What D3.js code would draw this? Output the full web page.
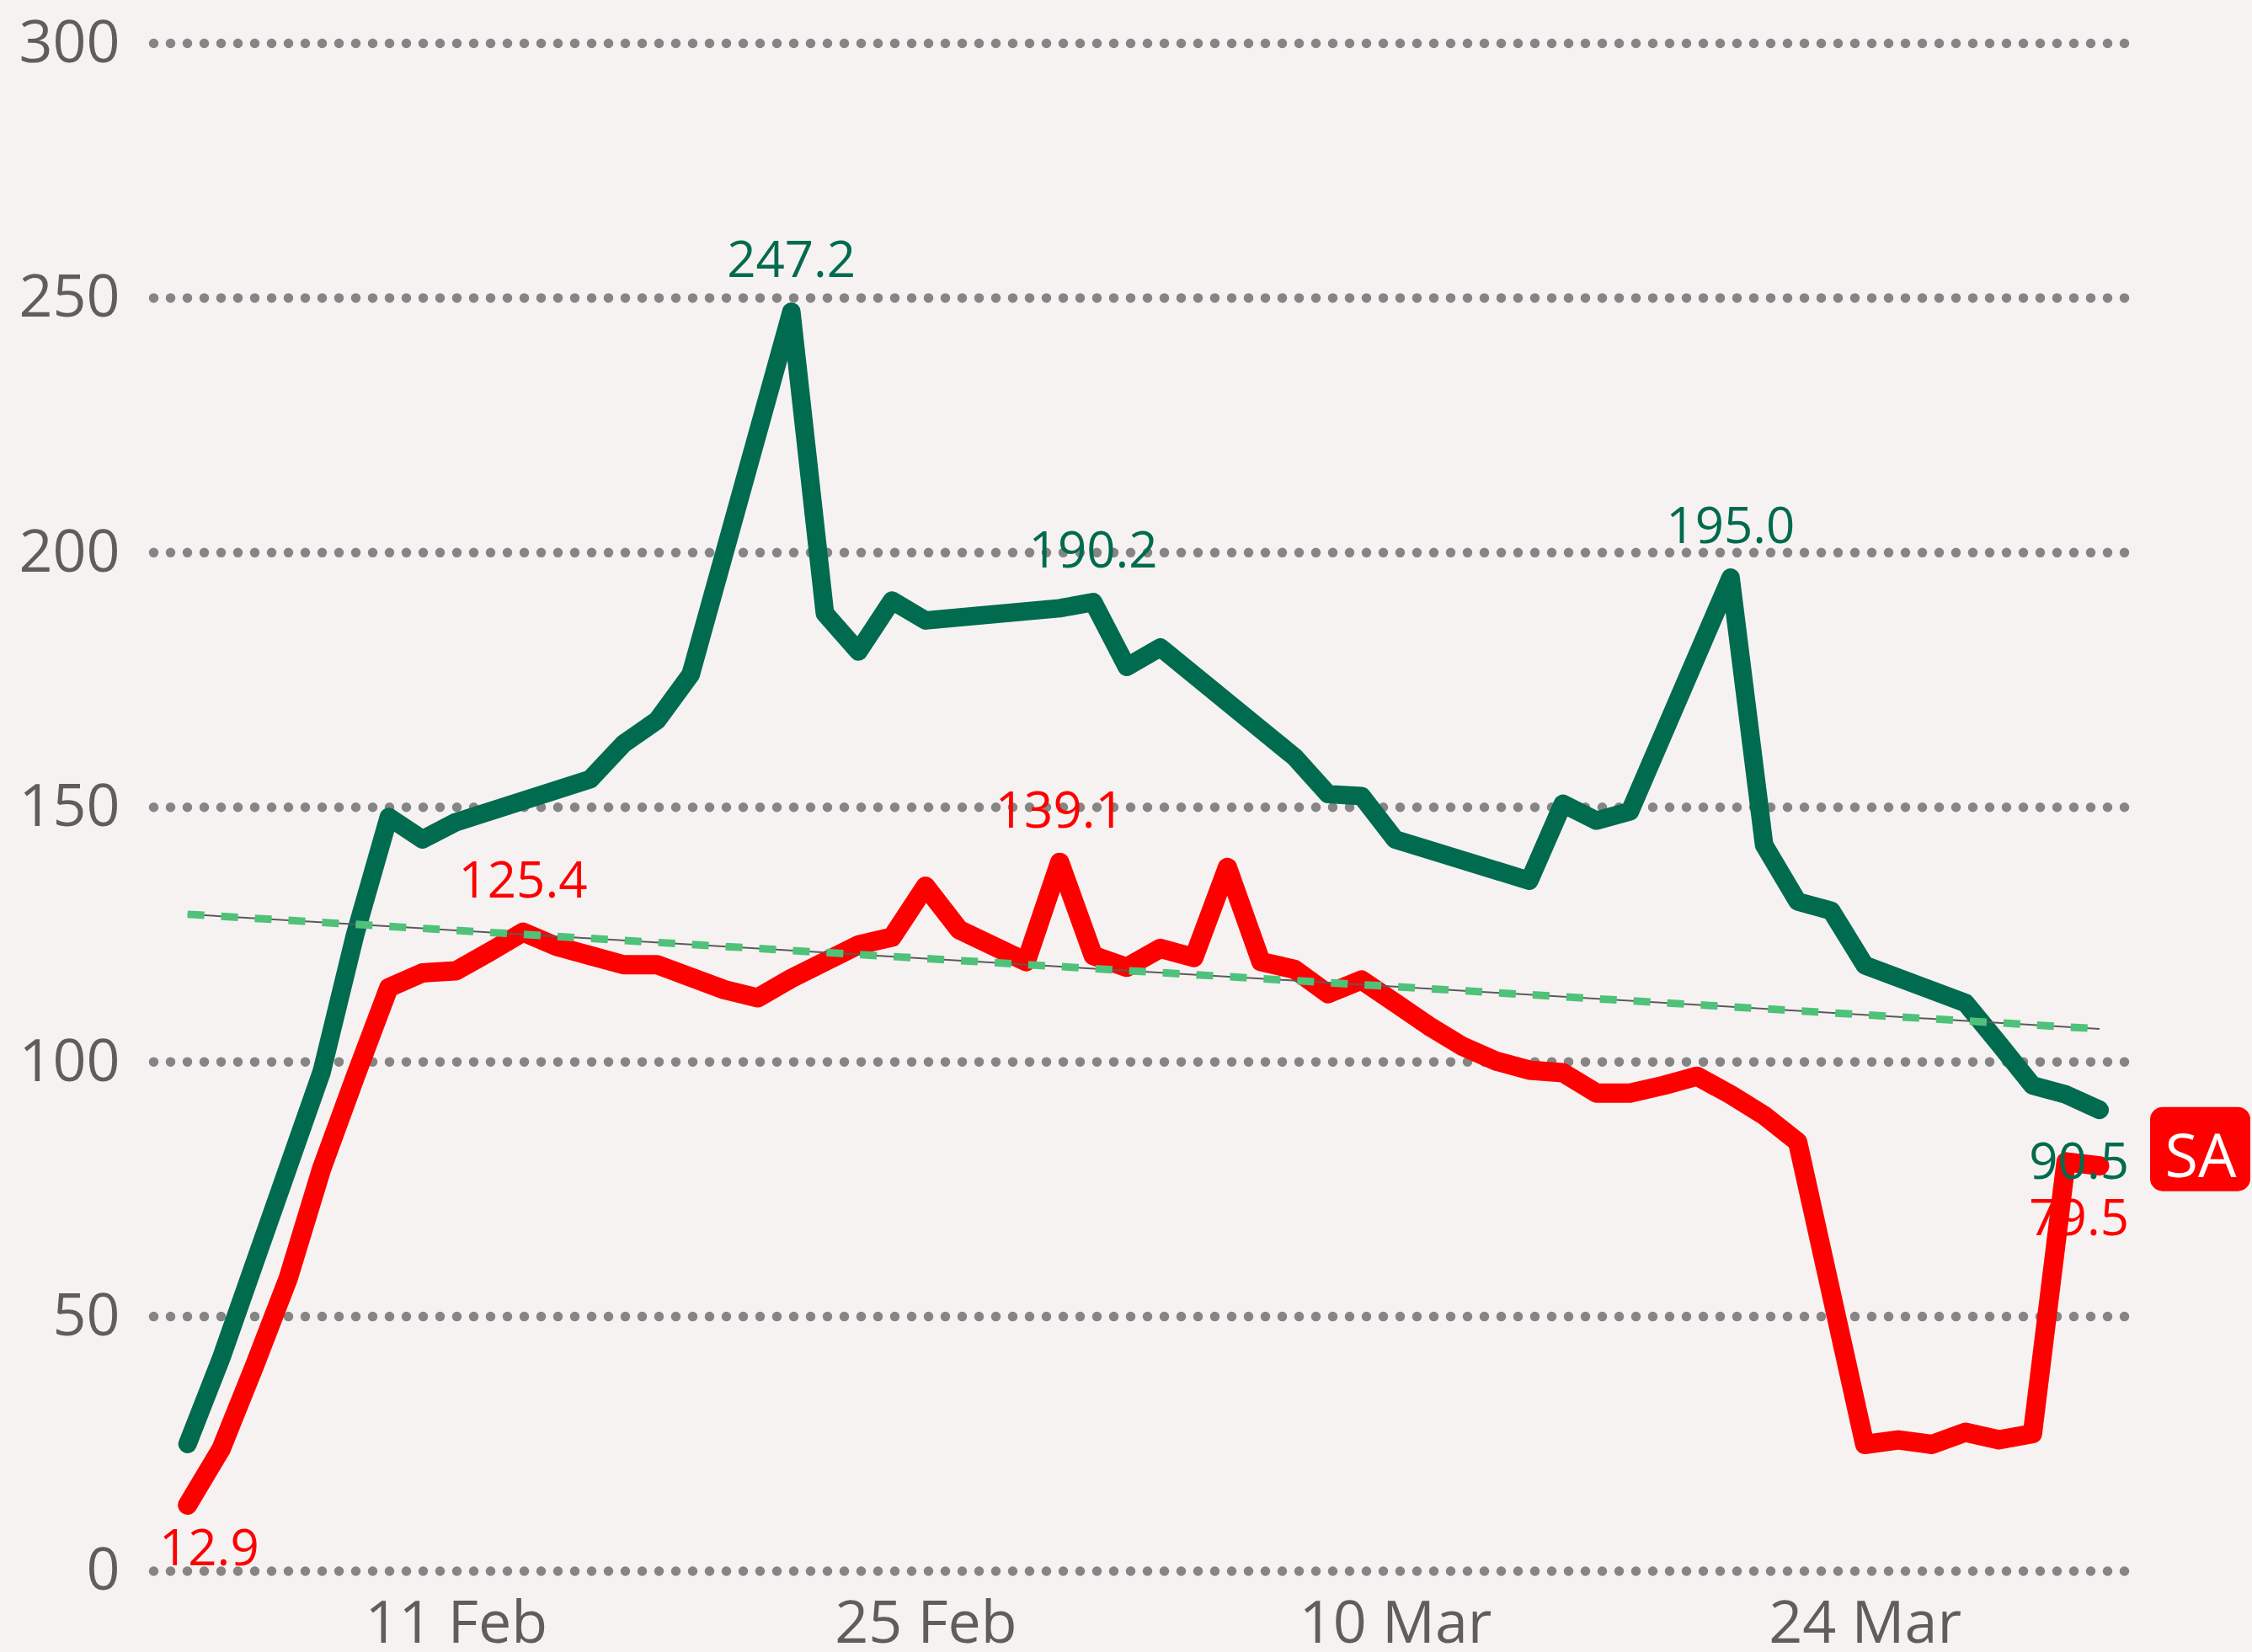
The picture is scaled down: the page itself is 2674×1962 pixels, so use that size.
<!DOCTYPE html>
<html>
<head>
    <meta charset="utf-8">
    <style>
        html, body {
            margin: 0;
            padding: 0;
            background: #f7f2f2;
        }

        svg {
            display: block;
        }
    </style>
</head>
<body>
<div id="chart"></div>

<script src="https://cdn.jsdelivr.net/npm/d3@7"></script>
<script>
    "use strict";

    // one entry per day, Feb 3 .. Mar 31 2020
    var dates = [
        "2020-02-03", "2020-02-04", "2020-02-05", "2020-02-06", "2020-02-07", "2020-02-08", "2020-02-09",
        "2020-02-10", "2020-02-11", "2020-02-12", "2020-02-13", "2020-02-14", "2020-02-15", "2020-02-16",
        "2020-02-17", "2020-02-18", "2020-02-19", "2020-02-20", "2020-02-21", "2020-02-22", "2020-02-23",
        "2020-02-24", "2020-02-25", "2020-02-26", "2020-02-27", "2020-02-28", "2020-02-29", "2020-03-01",
        "2020-03-02", "2020-03-03", "2020-03-04", "2020-03-05", "2020-03-06", "2020-03-07", "2020-03-08",
        "2020-03-09", "2020-03-10", "2020-03-11", "2020-03-12", "2020-03-13", "2020-03-14", "2020-03-15",
        "2020-03-16", "2020-03-17", "2020-03-18", "2020-03-19", "2020-03-20", "2020-03-21", "2020-03-22",
        "2020-03-23", "2020-03-24", "2020-03-25", "2020-03-26", "2020-03-27", "2020-03-28", "2020-03-29",
        "2020-03-30", "2020-03-31"
    ];

    // null = no value that day, the line just joins over it
    var greenValues = [
        24.9, 41.7, null, null, 98.0, 125.0, 148.0,
        143.6, 147.0, null, null, null, 155.4, 162.4,
        167.0, 176.0, null, null, 247.2, 188.0, 180.5,
        190.5, 186.6, null, null, null, 189.0, 190.2,
        177.5, 181.3, null, null, null, 159.8, 152.5,
        152.1, 143.6, null, null, null, 135.5, 150.6,
        147.3, 149.1, null, null, 195.0, 142.5, 131.4,
        129.6, 118.9, null, null, 111.5, 103.5, 95.3,
        93.5, 90.5
    ];

    var redValues = [
        12.9, 23.9, 40.3, 57.4, 79.0, 97.0, 114.5,
        117.4, 117.8, 121.5, 125.4, 122.6, 120.8, 119.0,
        119.0, null, 114.1, 112.5, 116.3, null, 122.9,
        124.4, 134.4, 125.9, null, 119.6, 139.1, 120.8,
        118.5, 122.2, 120.4, 138.1, 119.6, 118.1, 113.3,
        116.0, 111.5, 107.0, 103.0, 100.1, 98.3, 97.8,
        93.8, 93.8, 95.3, 97.1, 93.5, 89.4, 84.2,
        null, 24.8, 25.7, 24.8, 27.2, 25.7, 26.9,
        80.3, 79.5
    ];

    var trendDates = ["2020-02-03", "2020-03-31"];
    var trendValues = [128.9, 106.4];

    var yTicks = [0, 50, 100, 150, 200, 250, 300];
    var xTickDates = ["2020-02-11", "2020-02-25", "2020-03-10", "2020-03-24"];

    var labelPoints = [
        {series: "green", date: "2020-02-21", pos: "above"},
        {series: "green", date: "2020-03-01", pos: "above"},
        {series: "green", date: "2020-03-20", pos: "above"},
        {series: "green", date: "2020-03-31", pos: "below"},
        {series: "red", date: "2020-02-03", pos: "below"},
        {series: "red", date: "2020-02-13", pos: "above"},
        {series: "red", date: "2020-02-29", pos: "above"},
        {series: "red", date: "2020-03-31", pos: "below"}
    ];

    var legendName = "SA";

    const WIDTH = 2674;
    const HEIGHT = 1962;
    const FONT = "'Segoe UI', 'Open Sans', sans-serif";
    const GREEN = "#006b4f";
    const RED = "#ff0000";
    const TEXT_GREY = "#605e5c";
    const PLOT_LEFT = 182.5;
    const PLOT_RIGHT = 2523;
    const PLOT_BOTTOM = 1865.5;

    var parse = d3.timeParse("%Y-%m-%d");

    function toSeries(values) {
        var rows = [];
        for (var i = 0; i < dates.length; i++) {
            if (values[i] !== null) {
                rows.push({date: parse(dates[i]), value: values[i]});
            }
        }
        return rows;
    }

    var series = {
        green: {rows: toSeries(greenValues), color: GREEN, width: 22},
        red: {rows: toSeries(redValues), color: RED, width: 23}
    };

    var x = d3.scaleTime()
        .domain([parse(dates[0]), parse(dates[dates.length - 1])])
        .range([222.7, 2493]);

    var y = d3.scaleLinear()
        .domain([0, 300])
        .range([PLOT_BOTTOM, 51]);

    var svg = d3.select("#chart").append("svg")
        .attr("width", WIDTH)
        .attr("height", HEIGHT);

    svg.append("rect")
        .attr("width", WIDTH)
        .attr("height", HEIGHT)
        .attr("fill", "#f7f2f2");

    // y axis with dotted gridlines
    svg.append("g")
        .attr("transform", "translate(" + PLOT_LEFT + ",0)")
        .call(d3.axisLeft(y)
            .tickValues(yTicks)
            .tickSize(-(PLOT_RIGHT - PLOT_LEFT))
            .tickPadding(40)
            .tickFormat(d3.format("d")))
        .call(function (g) {
            g.select(".domain").remove();
            g.selectAll(".tick line")
                .attr("stroke", "#858585")
                .attr("stroke-width", 11.5)
                .attr("stroke-linecap", "round")
                .attr("stroke-dasharray", "0,20");
            g.selectAll(".tick text")
                .attr("fill", TEXT_GREY)
                .style("font-family", FONT)
                .style("font-size", "70px");
        });

    // x axis, just labels
    svg.append("g")
        .attr("transform", "translate(0," + PLOT_BOTTOM + ")")
        .call(d3.axisBottom(x)
            .tickValues(xTickDates.map(parse))
            .tickSize(0)
            .tickPadding(36)
            .tickFormat(d3.timeFormat("%-d %b")))
        .call(function (g) {
            g.select(".domain").remove();
            g.selectAll(".tick text")
                .attr("fill", TEXT_GREY)
                .style("font-family", FONT)
                .style("font-size", "70px");
        });

    var line = d3.line()
        .x(function (d) {
            return x(d.date);
        })
        .y(function (d) {
            return y(d.value);
        });

    ["green", "red"].forEach(function (key) {
        var s = series[key];
        svg.append("path")
            .datum(s.rows)
            .attr("fill", "none")
            .attr("stroke", s.color)
            .attr("stroke-width", s.width)
            .attr("stroke-linejoin", "round")
            .attr("stroke-linecap", "round")
            .attr("d", line);
    });

    // trend line: thin grey line with green dashes on top
    var trendRows = trendDates.map(function (d, i) {
        return {date: parse(d), value: trendValues[i]};
    });

    svg.append("path")
        .datum(trendRows)
        .attr("fill", "none")
        .attr("stroke", "#5a5a5a")
        .attr("stroke-width", 2)
        .attr("d", line);

    svg.append("path")
        .datum(trendRows)
        .attr("fill", "none")
        .attr("stroke", "#4fc27a")
        .attr("stroke-width", 9)
        .attr("stroke-dasharray", "20,20")
        .attr("d", line);

    // data labels
    var fmt = d3.format(".1f");

    labelPoints.forEach(function (p) {
        var s = series[p.series];
        var t = parse(p.date);
        var row = s.rows.find(function (r) {
            return +r.date === +t;
        });
        var px = x(row.date);
        var py = y(row.value);
        var baseline = p.pos === "above" ? py - 41 : Math.min(py + 82, PLOT_BOTTOM - 7);

        var txt = svg.append("text")
            .attr("x", px)
            .attr("y", baseline)
            .attr("text-anchor", "middle")
            .attr("fill", s.color)
            .style("font-family", FONT)
            .style("font-size", "60px")
            .text(fmt(row.value));

        // keep the label inside the plot
        var w = txt.node().getComputedTextLength();
        var left = px - w / 2;
        if (left < 189) {
            txt.attr("x", 189 + w / 2);
        } else if (px + w / 2 > 2528) {
            txt.attr("x", 2528 - w / 2);
        }
    });

    // end-of-line legend tag
    var lastRed = series.red.rows[series.red.rows.length - 1];
    var tagY = y(lastRed.value) - 70;

    svg.append("rect")
        .attr("x", 2553)
        .attr("y", tagY)
        .attr("width", 119)
        .attr("height", 100)
        .attr("rx", 15)
        .attr("fill", RED);

    svg.append("text")
        .attr("x", 2613)
        .attr("y", tagY + 83)
        .attr("text-anchor", "middle")
        .attr("fill", "#ffffff")
        .style("font-family", FONT)
        .style("font-size", "72px")
        .text(legendName);
</script>
</body>
</html>
